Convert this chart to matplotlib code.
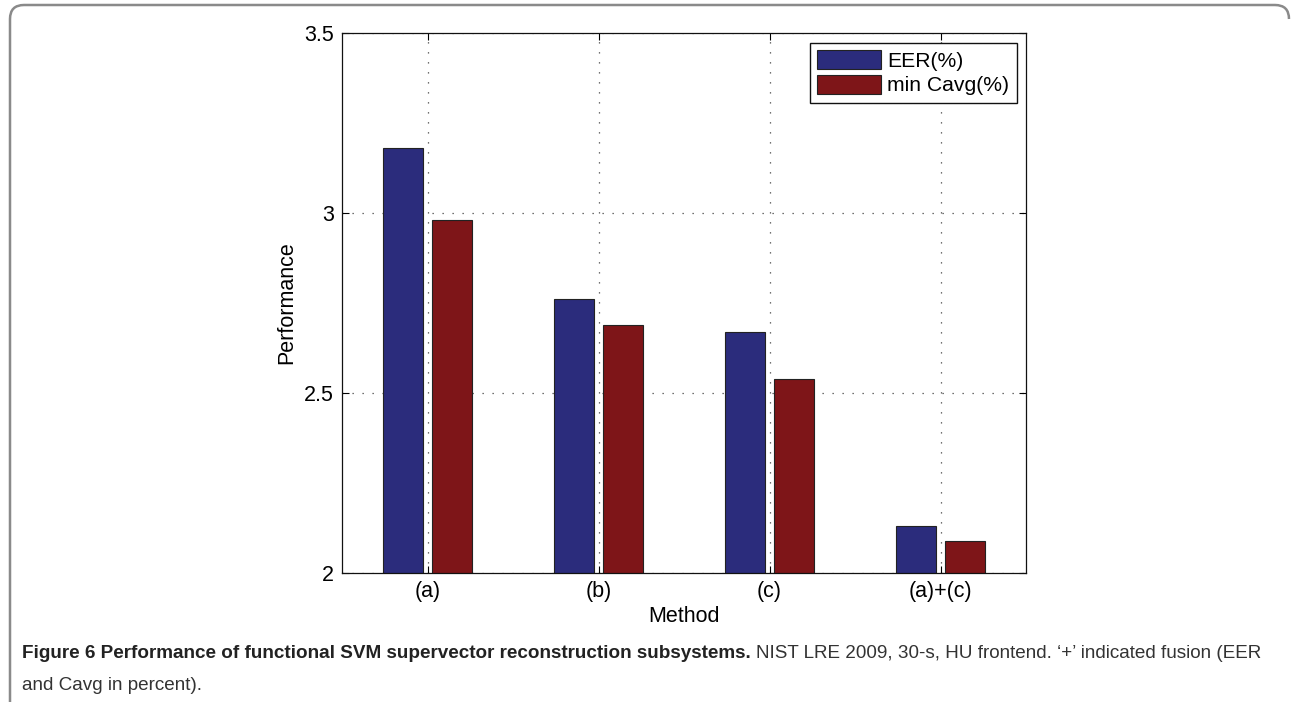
import matplotlib
matplotlib.use("Agg")
import matplotlib.pyplot as plt
from matplotlib.path import Path
from matplotlib.patches import PathPatch
import numpy as np

methods = ["(a)", "(b)", "(c)", "(a)+(c)"]
eer = [3.18, 2.76, 2.67, 2.13]
min_cavg = [2.98, 2.69, 2.54, 2.09]
yticks = [2, 2.5, 3, 3.5]
ytick_labels = ["2", "2.5", "3", "3.5"]

W, H = 1291, 702
fig = plt.figure(figsize=(W / 100, H / 100), dpi=100)
plt.rcParams["font.family"] = ["Liberation Sans", "DejaVu Sans"]

ax = fig.add_axes([342 / W, 1 - 573 / H, (1026 - 342) / W, (573 - 33) / H])
x = np.arange(1, len(methods) + 1)
off, bw = 0.145, 0.235
ax.bar(x - off, eer, bw, bottom=0, color="#2b2c7c", edgecolor="#222222",
       linewidth=0.8, label="EER(%)", zorder=2)
ax.bar(x + off, min_cavg, bw, bottom=0, color="#7e1518", edgecolor="#222222",
       linewidth=0.8, label="min Cavg(%)", zorder=2)

ax.set_xlim(0.5, 4.5)
ax.set_ylim(2, 3.5)
ax.set_xticks(x)
ax.set_xticklabels(methods)
ax.set_yticks(yticks)
ax.set_yticklabels(ytick_labels)
ax.tick_params(direction="in", length=5, width=0.8, labelsize=15.5,
               top=True, right=True, pad=6)
ax.grid(True, linestyle=(0, (1, 7)), color="#444444", linewidth=0.9, zorder=0)
ax.set_axisbelow(True)
for s in ax.spines.values():
    s.set_linewidth(0.9)
    s.set_color("#111111")
ax.set_xlabel("Method", fontsize=15.5, labelpad=3)
ax.set_ylabel("Performance", fontsize=15.5, labelpad=5)

leg = ax.legend(loc="upper right", fontsize=15.2, fancybox=False,
                edgecolor="#111111", framealpha=1, handlelength=3.0,
                handleheight=1.0, handletextpad=0.3, borderpad=0.35,
                labelspacing=0.2, borderaxespad=0.45)
leg.get_frame().set_linewidth(1.0)

# Rounded gray frame around the figure panel
r = 14
pts = [(10, H), (10, 5 + r), (10, 5), (10 + r, 5), (1289 - r, 5), (1289, 5),
       (1289, 5 + r)]
codes = [Path.MOVETO, Path.LINETO, Path.CURVE3, Path.CURVE3, Path.LINETO,
         Path.CURVE3, Path.CURVE3]
verts = [(px / W, 1 - py / H) for px, py in pts]
frame = PathPatch(Path(verts, codes), transform=fig.transFigure,
                  facecolor="none", edgecolor="#8a8a8a", linewidth=1.8)
fig.add_artist(frame)

cap_family = ["Liberation Sans Narrow", "Liberation Sans", "DejaVu Sans"]
t1 = fig.text(22 / W, 1 - 653 / H,
              "Figure 6 Performance of functional SVM supervector reconstruction subsystems.",
              fontsize=13.6, fontweight="bold", family=cap_family, va="center",
              color="#222222")
fig.canvas.draw()
bb = t1.get_window_extent()
fig.text((bb.x1 + 5) / W, 1 - 653 / H,
         "NIST LRE 2009, 30-s, HU frontend. \u2018+\u2019 indicated fusion (EER",
         fontsize=13.6, family=cap_family, va="center", color="#333333")
fig.text(22 / W, 1 - 686 / H, "and Cavg in percent).", fontsize=13.6,
         family=cap_family, va="center", color="#333333")

fig.savefig("out.png", dpi=100)
